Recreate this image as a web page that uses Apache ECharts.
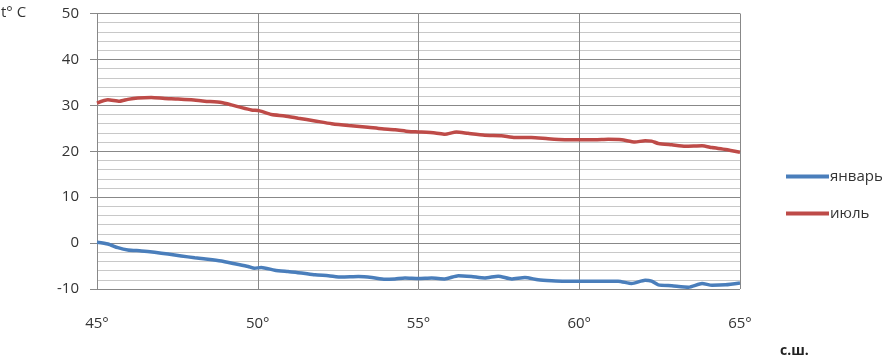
<!DOCTYPE html>
<html>
<head>
<meta charset="utf-8">
<script src="https://cdn.jsdelivr.net/npm/echarts@6/dist/echarts.min.js"></script>
<style>
html,body{margin:0;padding:0;background:#fff;}
#c{width:895px;height:360px;}
</style>
</head>
<body>
<div id="c"></div>
<script>
// Data
const seriesNames = ['январь', 'июль'];
const janLat = [45.0,45.34,45.65,45.96,46.38,46.79,47.21,47.62,48.04,48.45,48.87,49.28,49.7,49.9,50.11,50.53,50.94,51.36,51.78,52.2,52.61,53.13,53.55,53.96,54.27,54.58,55.0,55.41,55.82,56.24,56.65,57.06,57.48,57.89,58.31,58.72,59.14,59.55,60.07,60.59,61.21,61.63,62.05,62.25,62.46,62.88,63.4,63.82,64.13,64.55,65.0];
const janTemp = [0.2,-0.2,-1.0,-1.5,-1.7,-2.0,-2.4,-2.8,-3.2,-3.5,-3.9,-4.5,-5.1,-5.5,-5.3,-5.9,-6.2,-6.5,-6.9,-7.1,-7.4,-7.3,-7.5,-7.9,-7.8,-7.6,-7.7,-7.6,-7.8,-7.1,-7.3,-7.6,-7.2,-7.8,-7.5,-8.0,-8.2,-8.3,-8.3,-8.3,-8.3,-8.8,-8.1,-8.3,-9.1,-9.3,-9.6,-8.8,-9.2,-9.1,-8.7];
const julLat = [45.0,45.34,45.7,45.96,46.27,46.69,47.1,47.52,47.93,48.35,48.87,49.18,49.5,49.8,50.06,50.43,50.84,51.26,51.78,52.3,52.82,53.34,53.86,54.27,54.69,55.0,55.52,55.82,56.18,56.54,57.06,57.58,58.0,58.51,59.03,59.55,60.02,60.49,60.9,61.32,61.73,62.05,62.25,62.46,62.88,63.3,63.82,64.13,64.55,65.0];
const julTemp = [30.5,31.2,30.9,31.3,31.6,31.7,31.5,31.4,31.2,30.9,30.6,30.1,29.5,29.0,28.8,28.0,27.7,27.2,26.6,26.0,25.6,25.3,24.9,24.7,24.3,24.2,24.0,23.7,24.2,23.9,23.5,23.4,23.0,23.0,22.7,22.5,22.5,22.5,22.6,22.5,22.0,22.3,22.2,21.7,21.4,21.1,21.2,20.8,20.4,19.8];
const xTicks = [45, 50, 55, 60, 65];
const yTicks = [-10, 0, 10, 20, 30, 40, 50];
const yTitle = 't° C';
const xTitle = 'с.ш.';

const pairs = (a, b) => a.map((v, i) => [v, b[i]]);
const font = '"Open Sans", "Noto Sans", sans-serif';
const chart = echarts.init(document.getElementById('c'), null, {renderer: 'canvas'});
chart.setOption({
  animation: false,
  backgroundColor: '#fff',
  grid: {left: 97, top: 13.5, right: 155, bottom: 71, containLabel: false},
  graphic: [
    {type: 'text', left: 1, top: 5, style: {text: yTitle, font: '15px ' + font, fill: '#333'}},
    {type: 'text', left: 780, top: 344, style: {text: xTitle, font: 'bold 14px ' + font, fill: '#222'}}
  ],
  legend: {
    orient: 'vertical', left: 781, top: 161,
    itemWidth: 43, itemHeight: 4, itemGap: 16,
    icon: 'rect',
    textStyle: {fontSize: 15, fontFamily: font, color: '#333', padding: [0, 0, 0, -4], lineHeight: 21},
    data: seriesNames
  },
  xAxis: {
    type: 'value', min: xTicks[0], max: xTicks[xTicks.length - 1], interval: 5,
    axisLine: {show: true, lineStyle: {color: '#888', width: 1}},
    axisTick: {show: true, length: 7, lineStyle: {color: '#888'}},
    axisLabel: {margin: 27, fontSize: 15, fontFamily: font, color: '#333', formatter: v => v + '°'},
    splitLine: {show: true, lineStyle: {color: '#888', width: 1}}
  },
  yAxis: {
    type: 'value', min: yTicks[0], max: yTicks[yTicks.length - 1], interval: 10,
    axisLine: {show: false},
    axisTick: {show: true, length: 7, lineStyle: {color: '#888'}},
    axisLabel: {margin: 18, fontSize: 15, fontFamily: font, color: '#333'},
    splitLine: {show: true, lineStyle: {color: '#888', width: 1}},
    minorTick: {show: false, splitNumber: 5},
    minorSplitLine: {show: true, lineStyle: {color: '#c8c8c8', width: 1}}
  },
  series: [
    {name: seriesNames[0], type: 'line', data: pairs(janLat, janTemp), symbol: 'none', smooth: 0.2,
     lineStyle: {color: '#4a7ebb', width: 3.5}, itemStyle: {color: '#4a7ebb'}},
    {name: seriesNames[1], type: 'line', data: pairs(julLat, julTemp), symbol: 'none', smooth: 0.2,
     lineStyle: {color: '#be4b48', width: 3.5}, itemStyle: {color: '#be4b48'}}
  ]
});
</script>
</body>
</html>
